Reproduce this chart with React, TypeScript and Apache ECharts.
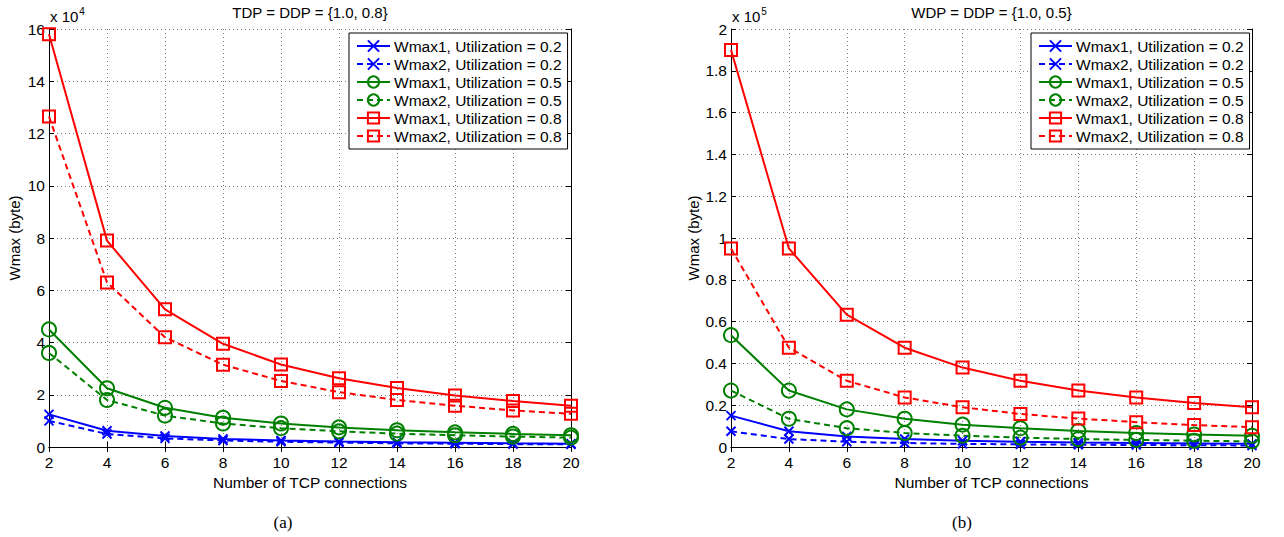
import React, { useEffect, useRef } from "react";
import * as echarts from "echarts";

// Number of TCP connections
const connections = [2, 4, 6, 8, 10, 12, 14, 16, 18, 20];

// Panel (a): TDP = DDP = {1.0, 0.8}, values in units of 10^4 bytes
const aW1u02 = [1.25, 0.62, 0.42, 0.31, 0.25, 0.21, 0.18, 0.16, 0.14, 0.125];
const aW2u02 = [1.0, 0.5, 0.33, 0.25, 0.2, 0.17, 0.14, 0.125, 0.11, 0.1];
const aW1u05 = [4.5, 2.25, 1.5, 1.12, 0.9, 0.75, 0.64, 0.56, 0.5, 0.45];
const aW2u05 = [3.6, 1.8, 1.2, 0.9, 0.72, 0.6, 0.51, 0.45, 0.4, 0.36];
const aW1u08 = [15.8, 7.9, 5.27, 3.95, 3.16, 2.63, 2.26, 1.97, 1.76, 1.58];
const aW2u08 = [12.65, 6.3, 4.2, 3.15, 2.53, 2.1, 1.8, 1.58, 1.4, 1.27];

// Panel (b): WDP = DDP = {1.0, 0.5}, values in units of 10^5 bytes
const bW1u02 = [0.15, 0.075, 0.05, 0.038, 0.03, 0.025, 0.021, 0.019, 0.017, 0.015];
const bW2u02 = [0.075, 0.038, 0.025, 0.019, 0.015, 0.0125, 0.011, 0.0095, 0.0085, 0.0075];
const bW1u05 = [0.535, 0.27, 0.18, 0.135, 0.107, 0.09, 0.077, 0.067, 0.06, 0.054];
const bW2u05 = [0.27, 0.135, 0.09, 0.067, 0.054, 0.045, 0.038, 0.034, 0.03, 0.027];
const bW1u08 = [1.9, 0.95, 0.633, 0.475, 0.38, 0.317, 0.27, 0.237, 0.21, 0.19];
const bW2u08 = [0.95, 0.475, 0.317, 0.237, 0.19, 0.158, 0.136, 0.119, 0.105, 0.095];

const seriesNames = [
  "Wmax1, Utilization = 0.2",
  "Wmax2, Utilization = 0.2",
  "Wmax1, Utilization = 0.5",
  "Wmax2, Utilization = 0.5",
  "Wmax1, Utilization = 0.8",
  "Wmax2, Utilization = 0.8",
];

const panelTitles = ["TDP = DDP = {1.0, 0.8}", "WDP = DDP = {1.0, 0.5}"];
const exponents = ["4", "5"];
const panelLabels = ["(a)", "(b)"];

const FONT = "'Liberation Sans', Arial, Helvetica, sans-serif";
const SERIF = "'Liberation Serif', 'Times New Roman', serif";
const BLUE = "#0000ff";
const GREEN = "#008000";
const RED = "#ff0000";

const CROSS = "path://M0,0L10,10M10,0L0,10";

function makeSeries(data: number[], idx: number, panel: number) {
  const colorList = [BLUE, BLUE, GREEN, GREEN, RED, RED];
  const color = colorList[idx];
  const dashed = idx % 2 === 1;
  let symbol = "circle";
  let symbolSize = 14;
  if (idx < 2) {
    symbol = CROSS;
    symbolSize = 9;
  } else if (idx >= 4) {
    symbol = "rect";
    symbolSize = 12;
  }
  return {
    type: "line",
    name: seriesNames[idx],
    xAxisIndex: panel,
    yAxisIndex: panel,
    data: connections.map((c, i) => [c, data[i]]),
    symbol,
    symbolSize,
    showSymbol: true,
    lineStyle: { color, width: 2, type: dashed ? [6, 4] : "solid" },
    itemStyle: { color: "rgba(0,0,0,0)", borderColor: color, borderWidth: 2 },
    emphasis: { disabled: true },
    z: 3,
  };
}

export default function App() {
  const ref = useRef<HTMLDivElement>(null);
  useEffect(() => {
    if (!ref.current) return;
    const chart = echarts.init(ref.current, null, { renderer: "svg" });

    const grids = [
      { left: 49, top: 29, width: 522, height: 418 },
      { left: 731, top: 29, width: 521, height: 418 },
    ];

    const gridLine = { show: true, lineStyle: { color: "#7a7a7a", type: [1, 3], width: 1 } };
    const axisLineStyle = { show: true, lineStyle: { color: "#000", width: 1 } };

    const xAxes: any[] = [];
    const yAxes: any[] = [];
    [0, 1].forEach((g) => {
      xAxes.push({
        gridIndex: g,
        type: "value",
        min: 2,
        max: 20,
        interval: 2,
        position: "bottom",
        name: "Number of TCP connections",
        nameLocation: "middle",
        nameGap: 20,
        nameTextStyle: { fontFamily: FONT, fontSize: 15.5, color: "#000" },
        axisLine: axisLineStyle,
        axisTick: { show: true, inside: true, length: 5, lineStyle: { color: "#000" } },
        axisLabel: { fontFamily: FONT, fontSize: 15.5, color: "#000", margin: 7 },
        splitLine: gridLine,
      });
    });
    [0, 1].forEach((g) => {
      yAxes.push({
        gridIndex: g,
        type: "value",
        min: 0,
        max: g === 0 ? 16 : 2,
        interval: g === 0 ? 2 : 0.2,
        position: "left",
        name: "Wmax (byte)",
        nameLocation: "middle",
        nameGap: g === 0 ? 27 : 30,
        nameTextStyle: { fontFamily: FONT, fontSize: 15, color: "#000" },
        axisLine: axisLineStyle,
        axisTick: { show: true, inside: true, length: 5, lineStyle: { color: "#000" } },
        axisLabel: {
          fontFamily: FONT,
          fontSize: 15.5,
          color: "#000",
          margin: 4,
          formatter: (v: number) => String(Math.round(v * 10) / 10),
        },
        splitLine: gridLine,
      });
    });
    // top / right box axes
    [0, 1].forEach((g) => {
      xAxes.push({
        gridIndex: g,
        type: "value",
        min: 2,
        max: 20,
        interval: 2,
        position: "top",
        axisLine: axisLineStyle,
        axisTick: { show: true, inside: true, length: 5, lineStyle: { color: "#000" } },
        axisLabel: { show: false },
        splitLine: { show: false },
      });
      yAxes.push({
        gridIndex: g,
        type: "value",
        min: 0,
        max: g === 0 ? 16 : 2,
        interval: g === 0 ? 2 : 0.2,
        position: "right",
        axisLine: axisLineStyle,
        axisTick: { show: true, inside: true, length: 5, lineStyle: { color: "#000" } },
        axisLabel: { show: false },
        splitLine: { show: false },
      });
    });

    const aData = [aW1u02, aW2u02, aW1u05, aW2u05, aW1u08, aW2u08];
    const bData = [bW1u02, bW2u02, bW1u05, bW2u05, bW1u08, bW2u08];
    const series: any[] = [];
    aData.forEach((d, i) => series.push(makeSeries(d, i, 0)));
    bData.forEach((d, i) => series.push(makeSeries(d, i, 1)));

    const legendBase = {
      orient: "vertical",
      top: 33,
      padding: [5, 6, 5, 7],
      itemWidth: 33,
      itemHeight: 14,
      itemGap: 2,
      backgroundColor: "#fff",
      borderColor: "#000",
      borderWidth: 1,
      borderRadius: 0,
      selectedMode: false,
      textStyle: { fontFamily: FONT, fontSize: 15.5, color: "#000", padding: [0, 0, 0, -1] },
      z: 10,
    };

    const graphics: any[] = [];
    grids.forEach((g, i) => {
      graphics.push({
        type: "text",
        x: g.left + g.width / 2,
        y: 12,
        style: {
          text: panelTitles[i],
          fontFamily: FONT,
          fontSize: 15,
          fill: "#000",
          align: "center",
          verticalAlign: "middle",
        },
      });
      graphics.push({
        type: "text",
        x: g.left + 1,
        y: 15,
        style: {
          text: "{b|x 10}{s|" + exponents[i] + "}",
          rich: {
            b: { fontFamily: FONT, fontSize: 15, fill: "#000", verticalAlign: "bottom" },
            s: { fontFamily: FONT, fontSize: 10, fill: "#000", padding: [0, 0, 8, 1] },
          },
          fill: "#000",
          verticalAlign: "middle",
        },
      });
      graphics.push({
        type: "text",
        x: i === 0 ? 283 : 962,
        y: 522,
        style: {
          text: panelLabels[i],
          fontFamily: SERIF,
          fontSize: 17,
          fill: "#000",
          align: "center",
          verticalAlign: "middle",
        },
      });
    });

    chart.setOption({
      animation: false,
      backgroundColor: "#fff",
      grid: grids,
      xAxis: xAxes,
      yAxis: yAxes,
      legend: [
        { ...legendBase, left: 349, data: seriesNames.map((n) => ({ name: n })) },
        { ...legendBase, left: 1031, data: seriesNames.map((n) => ({ name: n })) },
      ],
      series,
      graphic: graphics,
    });

    return () => chart.dispose();
  }, []);

  return (
    <div
      ref={ref}
      style={{ position: "fixed", left: 0, top: 0, width: 1284, height: 537, background: "#fff" }}
    />
  );
}
